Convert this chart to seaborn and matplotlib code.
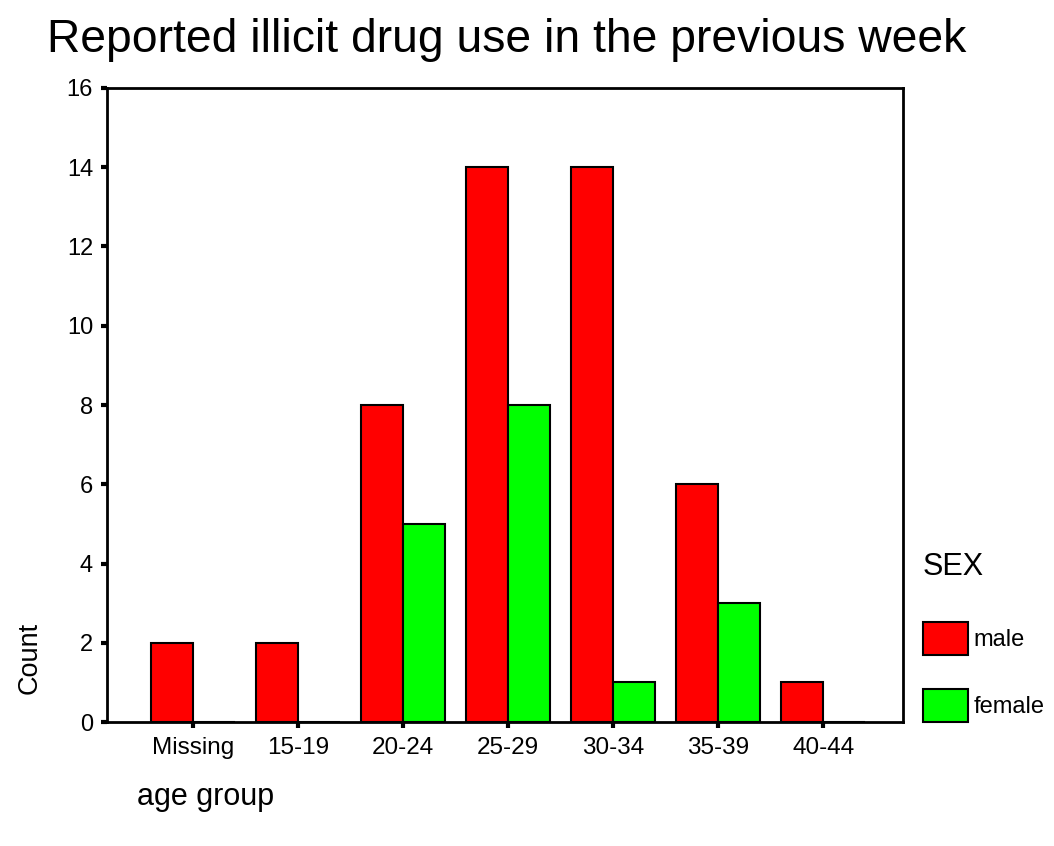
import matplotlib
matplotlib.use("Agg")
import matplotlib.pyplot as plt
import seaborn as sns
import pandas as pd

age_groups = ["Missing", "15-19", "20-24", "25-29", "30-34", "35-39", "40-44"]
male_counts = [2, 2, 8, 14, 14, 6, 1]
female_counts = [0, 0, 5, 8, 1, 3, 0]
sex_labels = ["male", "female"]
y_ticks = [0, 2, 4, 6, 8, 10, 12, 14, 16]

df = pd.DataFrame({
    "age group": age_groups * 2,
    "Count": male_counts + female_counts,
    "SEX": [sex_labels[0]] * len(age_groups) + [sex_labels[1]] * len(age_groups),
})

sns.set_theme(style="white")
plt.rcParams["font.family"] = ["Liberation Sans", "DejaVu Sans"]
plt.rcParams["text.color"] = "black"
plt.rcParams["xtick.color"] = "black"
plt.rcParams["ytick.color"] = "black"
plt.rcParams["axes.labelcolor"] = "black"

fig = plt.figure(figsize=(10.54, 8.46), dpi=100)
ax = fig.add_axes([107 / 1054, 1 - 722 / 846, (903 - 107) / 1054, (722 - 88) / 846])

sns.barplot(data=df, x="age group", y="Count", hue="SEX", hue_order=sex_labels,
            palette=["#ff0000", "#00ff00"], saturation=1, edgecolor="black",
            linewidth=1.5, width=0.8, ax=ax, legend=True)

ax.set_xlim(-0.82, 6.76)
ax.set_ylim(0, 16)
ax.set_yticks(y_ticks)
ax.set_yticklabels([str(v) for v in y_ticks])
for s in ax.spines.values():
    s.set_linewidth(2)
    s.set_color("black")
ax.tick_params(axis="both", direction="out", length=4, width=3, color="black",
               labelcolor="black", left=True, bottom=True)
ax.tick_params(axis="x", labelsize=17.5, pad=7)
ax.tick_params(axis="y", labelsize=17, pad=6)
ax.set_xlabel("")
ax.set_ylabel("")

fig.text(30 / 1054, 1 - 658 / 846, "Count", rotation=90, fontsize=19.5,
         ha="center", va="center")
fig.text(137 / 1054, 1 - 797 / 846, "age group", fontsize=22, ha="left", va="center")
fig.text(507 / 1054, 1 - 40 / 846, "Reported illicit drug use in the previous week",
         fontsize=33.3, ha="center", va="center")

handles, labels = ax.get_legend_handles_labels()
ax.legend(handles, labels, title="SEX", frameon=False, fontsize=17,
          title_fontsize=22, handlelength=1.9, handleheight=1.76,
          labelspacing=1.45, handletextpad=0.25, loc="lower left",
          bbox_to_anchor=(1.025, 0.0), alignment="left", borderaxespad=0,
          borderpad=0)
leg = ax.get_legend()
leg._legend_box.sep = 29
for p in leg.get_patches():
    p.set_edgecolor("black")
    p.set_linewidth(1.5)

fig.savefig("out.png", dpi=100)
